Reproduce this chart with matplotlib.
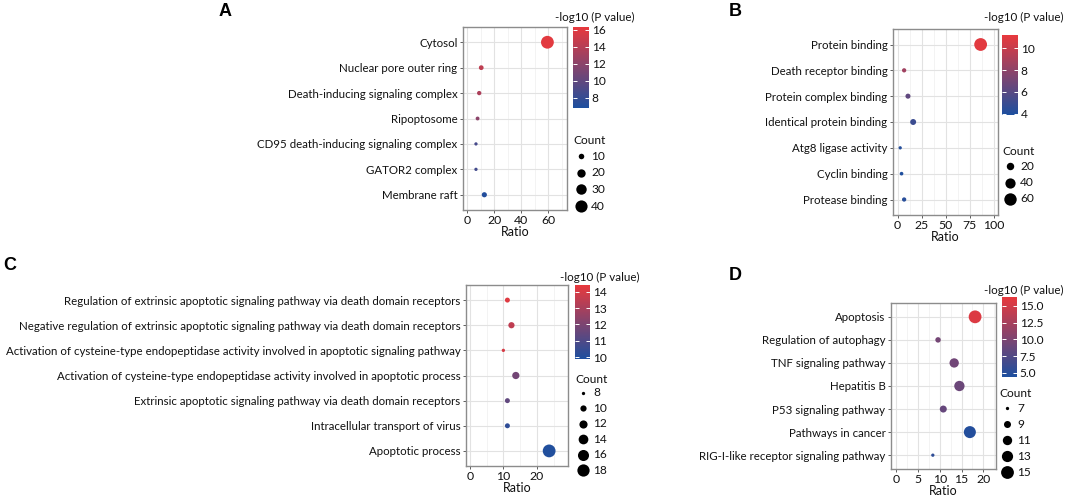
import matplotlib
matplotlib.use("Agg")
import matplotlib.pyplot as plt
import numpy as np
from matplotlib.colors import LinearSegmentedColormap, Normalize
from matplotlib.cm import ScalarMappable
from matplotlib.ticker import MultipleLocator

plt.rcParams['font.family'] = ['Lato', 'DejaVu Sans']

W, H = 1065, 496
LOW, HIGH = "#1D4F9F", "#E8393D"
cmap = LinearSegmentedColormap.from_list("pval", [LOW, HIGH])

# ---- panel A: cellular component ----
a_terms = ["Cytosol", "Nuclear pore outer ring", "Death-inducing signaling complex",
           "Ripoptosome", "CD95 death-inducing signaling complex", "GATOR2 complex",
           "Membrane raft"]
a_ratio = [59.5, 10.5, 9.0, 7.8, 6.6, 6.6, 12.8]
a_count = [44, 8, 7, 6, 5, 5, 9]
a_logp = [16.0, 14.3, 13.5, 12.0, 8.8, 8.6, 7.1]
a_xticks = [0, 20, 40, 60]
a_cbticks = [8, 10, 12, 14, 16]
a_breaks = [10, 20, 30, 40]

# ---- panel B: molecular function ----
b_terms = ["Protein binding", "Death receptor binding", "Protein complex binding",
           "Identical protein binding", "Atg8 ligase activity", "Cyclin binding",
           "Protease binding"]
b_ratio = [86.5, 6.8, 10.8, 16.2, 2.7, 4.1, 6.8]
b_count = [64, 5, 8, 12, 2, 3, 5]
b_logp = [11.0, 8.6, 6.3, 5.0, 4.2, 4.0, 4.3]
b_xticks = [0, 25, 50, 75, 100]
b_cbticks = [4, 6, 8, 10]
b_breaks = [20, 40, 60]

# ---- panel C: biological process ----
c_terms = ["Regulation of extrinsic apoptotic signaling pathway via death domain receptors",
           "Negative regulation of extrinsic apoptotic signaling pathway via death domain receptors",
           "Activation of cysteine-type endopeptidase activity involved in apoptotic signaling pathway",
           "Activation of cysteine-type endopeptidase activity involved in apoptotic process",
           "Extrinsic apoptotic signaling pathway via death domain receptors",
           "Intracellular transport of virus",
           "Apoptotic process"]
c_ratio = [11.2, 12.4, 10.0, 13.7, 11.2, 11.2, 23.6]
c_count = [9, 10, 8, 11, 9, 9, 19]
c_logp = [14.2, 13.5, 14.0, 11.8, 11.4, 10.3, 10.0]
c_xticks = [0, 10, 20]
c_cbticks = [10, 11, 12, 13, 14]
c_breaks = [8, 10, 12, 14, 16, 18]

# ---- panel D: KEGG ----
d_terms = ["Apoptosis", "Regulation of autophagy", "TNF signaling pathway", "Hepatitis B",
           "P53 signaling pathway", "Pathways in cancer",
           "RIG-I-like receptor signaling pathway"]
d_ratio = [18.1, 9.6, 13.3, 14.5, 10.8, 16.9, 8.4]
d_count = [15, 8, 11, 12, 9, 14, 7]
d_logp = [15.6, 9.5, 9.3, 9.0, 8.7, 4.8, 5.5]
d_xticks = [0, 5, 10, 15, 20]
d_cbticks = [5.0, 7.5, 10.0, 12.5, 15.0]
d_breaks = [7, 9, 11, 13, 15]

TXT = '#111111'


def px_rect(x0, y0, x1, y1):
    return [x0 / W, 1 - y1 / H, (x1 - x0) / W, (y1 - y0) / H]


def point_size(c, cmin, cmax, dmin=3.3, dmax=12.8):
    # area grows linearly with count, like ggplot's scale_size
    c = np.asarray(c, float)
    d2 = dmin ** 2 + (dmax ** 2 - dmin ** 2) * (c - cmin) / (cmax - cmin)
    return d2 * 0.72 ** 2


def dot_panel(fig, ov, rect, cbrect, terms, ratio, count, logp, xlim, xticks,
              minor, vlim, cbticks, breaks, cbfmt, cbtitle_xy, leg_xy, leg_step):
    ax = fig.add_axes(px_rect(*rect))
    n = len(terms)
    ypos = np.arange(n)[::-1]
    cmin, cmax = min(count), max(count)
    ax.scatter(ratio, ypos, s=point_size(count, cmin, cmax), c=logp, cmap=cmap,
               vmin=vlim[0], vmax=vlim[1], linewidths=0, zorder=3)
    ax.set_xlim(*xlim)
    ax.set_ylim(-0.6, n - 0.4)
    ax.set_yticks(ypos)
    ax.set_yticklabels(terms)
    ax.set_xticks(xticks)
    ax.xaxis.set_minor_locator(MultipleLocator(minor))
    ax.grid(True, which='major', color='#E2E2E2', lw=0.8, zorder=0)
    ax.grid(True, which='minor', axis='x', color='#EEEEEE', lw=0.5, zorder=0)
    ax.set_axisbelow(True)
    ax.tick_params(which='major', length=2.5, width=0.6, color='#444', labelsize=8.3,
                   labelcolor=TXT, pad=1.5)
    ax.tick_params(axis='x', labelsize=8.8, pad=1)
    ax.tick_params(which='minor', length=0)
    for sp in ax.spines.values():
        sp.set_color('#8C8C8C')
        sp.set_linewidth(1.0)
    ax.set_xlabel("Ratio", fontsize=9, labelpad=0, color=TXT)

    # colour bar
    cax = fig.add_axes(px_rect(*cbrect))
    sm = ScalarMappable(norm=Normalize(*vlim), cmap=cmap)
    cb = fig.colorbar(sm, cax=cax, ticks=cbticks)
    cb.outline.set_visible(False)
    cax.yaxis.set_ticks_position('both')
    cax.tick_params(length=3, width=0.7, color='white', direction='in', labelsize=8.6,
                    labelcolor=TXT, labelleft=False, labelright=True, pad=2)
    cax.set_yticklabels([cbfmt.format(t) for t in cbticks])
    ov.text(cbtitle_xy[0], cbtitle_xy[1], "-log10 (P value)", fontsize=8.4,
            ha='left', va='center', color=TXT)

    # size legend
    lx, ly = leg_xy
    ov.text(lx - 8, ly - leg_step * 0.9, "Count", fontsize=8.6, ha='left', va='center',
            color=TXT)
    for i, b in enumerate(breaks):
        yy = ly + i * leg_step
        ov.scatter([lx], [yy], s=point_size(b, cmin, cmax), color='black', linewidths=0)
        ov.text(lx + 10, yy, str(b), fontsize=8.6, ha='left', va='center', color=TXT)
    return ax


fig = plt.figure(figsize=(W / 100, H / 100), dpi=100)
ov = fig.add_axes([0, 0, 1, 1])
ov.set_xlim(0, W)
ov.set_ylim(H, 0)
ov.axis('off')

dot_panel(fig, ov, (463, 27, 567, 210), (573, 27, 589, 108), a_terms, a_ratio, a_count,
          a_logp, (-3, 74), a_xticks, 10, (6.8, 16.3), a_cbticks, a_breaks, "{:g}",
          (555, 17), (581, 156), 16.7)
dot_panel(fig, ov, (893, 29, 998, 215), (1002, 35, 1018, 115), b_terms, b_ratio, b_count,
          b_logp, (-4.8, 104.6), b_xticks, 12.5, (3.9, 11.2), b_cbticks, b_breaks, "{:g}",
          (984, 17), (1010, 166), 16.5)
dot_panel(fig, ov, (466, 285, 568, 466), (575, 285, 590, 359), c_terms, c_ratio, c_count,
          c_logp, (-1.1, 29.2), c_xticks, 5, (9.9, 14.4), c_cbticks, c_breaks, "{:g}",
          (560, 277), (583, 393), 15.4)
dot_panel(fig, ov, (891, 303, 996, 469), (1002, 297, 1017, 377), d_terms, d_ratio, d_count,
          d_logp, (-1.2, 22.9), d_xticks, 2.5, (4.4, 16.3), d_cbticks, d_breaks, "{:.1f}",
          (984, 290), (1007, 408), 16.0)

for letter, x, y in [("A", 225, 12), ("B", 735, 11), ("C", 10, 265), ("D", 735, 276)]:
    ov.text(x, y, letter, fontsize=13, fontweight='bold', ha='center', va='center',
            family=['Liberation Sans', 'DejaVu Sans'])

fig.savefig("out.png", dpi=100)
